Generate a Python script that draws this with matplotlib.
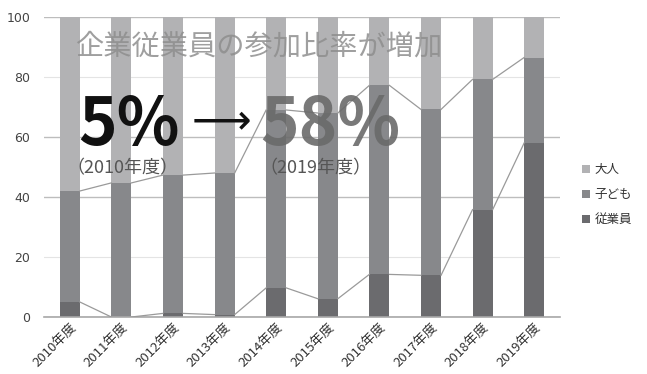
import matplotlib
matplotlib.use("Agg")
import matplotlib.pyplot as plt
import numpy as np

plt.rcParams['font.family'] = ['Noto Sans CJK JP', 'DejaVu Sans']

years = ["2010年度", "2011年度", "2012年度", "2013年度", "2014年度",
         "2015年度", "2016年度", "2017年度", "2018年度", "2019年度"]
employees = [5.0, 0.0, 1.2, 0.8, 9.7, 6.1, 14.2, 13.9, 35.8, 58.0]
children = [37.0, 44.7, 46.1, 47.2, 59.3, 61.9, 63.0, 55.3, 43.4, 28.5]
adults = [58.0, 55.3, 52.7, 52.0, 31.0, 32.0, 22.8, 30.8, 20.8, 13.5]
yticks = [0, 20, 40, 60, 80, 100]

c_adult = "#b2b2b4"
c_child = "#87888b"
c_emp = "#6b6b6e"

W, H = 647, 374
fig = plt.figure(figsize=(W / 100, H / 100), dpi=100)
ax = fig.add_axes([44 / W, 1 - 317 / H, (560 - 44) / W, (317 - 17) / H])

x = np.arange(len(years))
bw = 0.39
emp = np.array(employees)
chi = np.array(children)
adu = np.array(adults)

b1 = ax.bar(x, emp, bw, color=c_emp, zorder=2, label="従業員")
b2 = ax.bar(x, chi, bw, bottom=emp, color=c_child, zorder=2, label="子ども")
b3 = ax.bar(x, adu, bw, bottom=emp + chi, color=c_adult, zorder=2, label="大人")

# series lines connecting bar tops
for level in (emp, emp + chi):
    for i in range(len(x) - 1):
        ax.plot([x[i] + bw / 2, x[i + 1] - bw / 2], [level[i], level[i + 1]],
                color="#9a9a9a", lw=0.9, zorder=3)

ax.set_xlim(-0.5, len(x) - 0.5)
ax.set_ylim(0, 100)
ax.set_yticks(yticks)
ax.set_xticks(x)
ax.set_xticklabels(years, rotation=45, ha="right", rotation_mode="anchor",
                   fontsize=9.5, color="#333333")
ax.tick_params(axis="y", length=0, labelsize=9, colors="#444444", pad=10)
ax.tick_params(axis="x", length=0, pad=3)
for lab in ax.get_yticklabels():
    lab.set_fontfamily(["DejaVu Sans"])
for s in ["top", "right", "left"]:
    ax.spines[s].set_visible(False)
ax.spines["bottom"].set_color("#a8a8a8")
ax.spines["bottom"].set_linewidth(1.2)

ax.yaxis.grid(True, zorder=0)
for v, gl in zip(yticks, ax.get_ygridlines()):
    if v in (20, 80):
        gl.set_color("#e4e4e4")
        gl.set_linewidth(0.8)
    else:
        gl.set_color("#bdbdbd")
        gl.set_linewidth(1.0)
ax.set_axisbelow(True)

# overlay texts
fig.text(75 / W, 1 - 47 / H, "企業従業員の参加比率が増加", fontsize=20.3,
         color="#8e8e8e", alpha=0.85, va="center", ha="left", zorder=5)
fig.text(78 / W, 1 - 145 / H, "5%", fontsize=47, color="#111111",
         va="baseline", ha="left", fontweight="bold", zorder=5)
fig.text(192 / W, 1 - 121 / H, "⟶", fontsize=30, color="#111111",
         va="center", ha="left", family=["DejaVu Sans"], zorder=5)
fig.text(260 / W, 1 - 145 / H, "58%", fontsize=47, color="#6a6a6a",
         alpha=0.9, va="baseline", ha="left", fontweight="bold", zorder=5)
fig.text(66 / W, 1 - 168 / H, "（2010年度）", fontsize=13, color="#555555",
         va="center", ha="left", zorder=5)
fig.text(259 / W, 1 - 168 / H, "（2019年度）", fontsize=13, color="#555555",
         va="center", ha="left", zorder=5)

leg = fig.legend(handles=[b3, b2, b1], labels=["大人", "子ども", "従業員"],
                 loc="upper left", bbox_to_anchor=(571 / W, 1 - 152 / H),
                 frameon=False, fontsize=9, handlelength=0.6, handleheight=0.6,
                 handletextpad=0.4, labelspacing=0.95, labelcolor="#333333")

fig.savefig("out.png", dpi=100)
